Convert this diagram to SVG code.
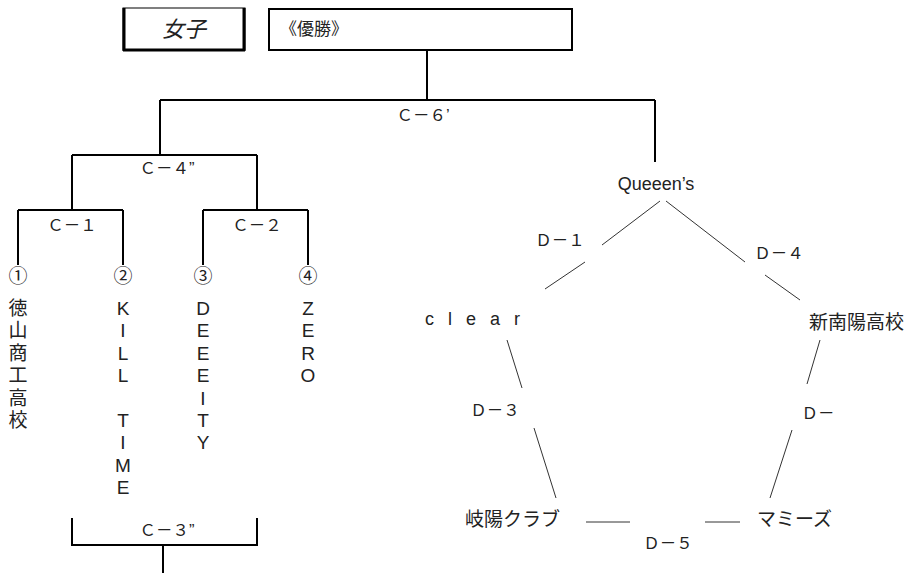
<svg xmlns="http://www.w3.org/2000/svg" width="906" height="573" viewBox="0 0 906 573">
<style>
text{font-family:"Liberation Sans","Noto Sans CJK JP",sans-serif;fill:#222;}
.lb{font-size:16.5px;text-anchor:middle;}
.v{font-size:19px;text-anchor:middle;}
.t{stroke:#000;stroke-width:2;fill:none;}
.p{stroke:#333;stroke-width:1;fill:none;}
.n{font-size:19px;}
</style>
<rect width="906" height="573" fill="#fff"/>
<g id="joshi">
<rect x="123" y="8" width="122" height="42" fill="#fff" stroke="#000" stroke-width="1"/>
<path d="M124 8V51M123 50H245M244 8V51" stroke="#000" stroke-width="3" fill="none"/>
<text x="184" y="37" font-size="22" font-style="italic" text-anchor="middle">女子</text>
</g>
<g id="yusho">
<rect x="269" y="9" width="303" height="41" fill="#fff" stroke="#000" stroke-width="2"/>
<text x="280" y="35" font-size="17">《優勝》</text>
</g>
<g id="connectors">
<path class="t" d="M427 50V100M160 100H655M160 100V155M655 100V162M72 155H257M72 155V210M257 155V210M18 210H123M203 210H308M18 210V265M123 210V265M203 210V265M308 210V265"/>
<path class="t" d="M72 518V545H257V518M163 545V573"/>
<path class="p" d="M660 201L602 245M585 262L545 289M666 201L745 262M765 275L800 300M507 340L522 388M534 428L556 498M820 340L807 384M792 430L770 498M586 522H630M705 522H740"/>
<text class="lb" x="423" y="121">Ｃ－６’</text>
<text class="lb" x="167" y="174">Ｃ－４”</text>
<text class="lb" x="72" y="231">Ｃ－１</text>
<text class="lb" x="257" y="231">Ｃ－２</text>
<text class="lb" x="167" y="536">Ｃ－３”</text>
<text class="lb" x="560" y="246">Ｄ－１</text>
<text class="lb" x="779" y="259">Ｄ－４</text>
<text class="lb" x="495" y="416">Ｄ－３</text>
<text class="lb" x="818" y="419">Ｄ－</text>
<text class="lb" x="668" y="549">Ｄ－５</text>
</g>
<g id="team1">
<text class="v" x="18" y="283">①</text>
<text class="v"><tspan x="18" y="315">徳</tspan><tspan x="18" y="337">山</tspan><tspan x="18" y="360">商</tspan><tspan x="18" y="382">工</tspan><tspan x="18" y="405">高</tspan><tspan x="18" y="427">校</tspan></text>
</g>
<g id="team2">
<text class="v" x="123" y="283">②</text>
<text class="v"><tspan x="123" y="315">K</tspan><tspan x="123" y="337">I</tspan><tspan x="123" y="360">L</tspan><tspan x="123" y="382">L</tspan><tspan x="123" y="427">T</tspan><tspan x="123" y="449">I</tspan><tspan x="123" y="472">M</tspan><tspan x="123" y="494">E</tspan></text>
</g>
<g id="team3">
<text class="v" x="203" y="283">③</text>
<text class="v"><tspan x="203" y="315">D</tspan><tspan x="203" y="337">E</tspan><tspan x="203" y="360">E</tspan><tspan x="203" y="382">E</tspan><tspan x="203" y="405">I</tspan><tspan x="203" y="427">T</tspan><tspan x="203" y="449">Y</tspan></text>
</g>
<g id="team4">
<text class="v" x="308" y="283">④</text>
<text class="v"><tspan x="308" y="315">Z</tspan><tspan x="308" y="337">E</tspan><tspan x="308" y="360">R</tspan><tspan x="308" y="382">O</tspan></text>
</g>
<g id="queeens"><text x="656" y="190" font-size="18" text-anchor="middle">Queeen’s</text></g>
<g id="clear"><text x="425" y="325" font-size="18" letter-spacing="14">clear</text></g>
<g id="shinnanyo"><text class="n" x="809" y="329">新南陽高校</text></g>
<g id="giyo"><text class="n" x="465" y="526">岐陽クラブ</text></g>
<g id="mamis"><text class="n" x="757" y="526">マミーズ</text></g>
</svg>
